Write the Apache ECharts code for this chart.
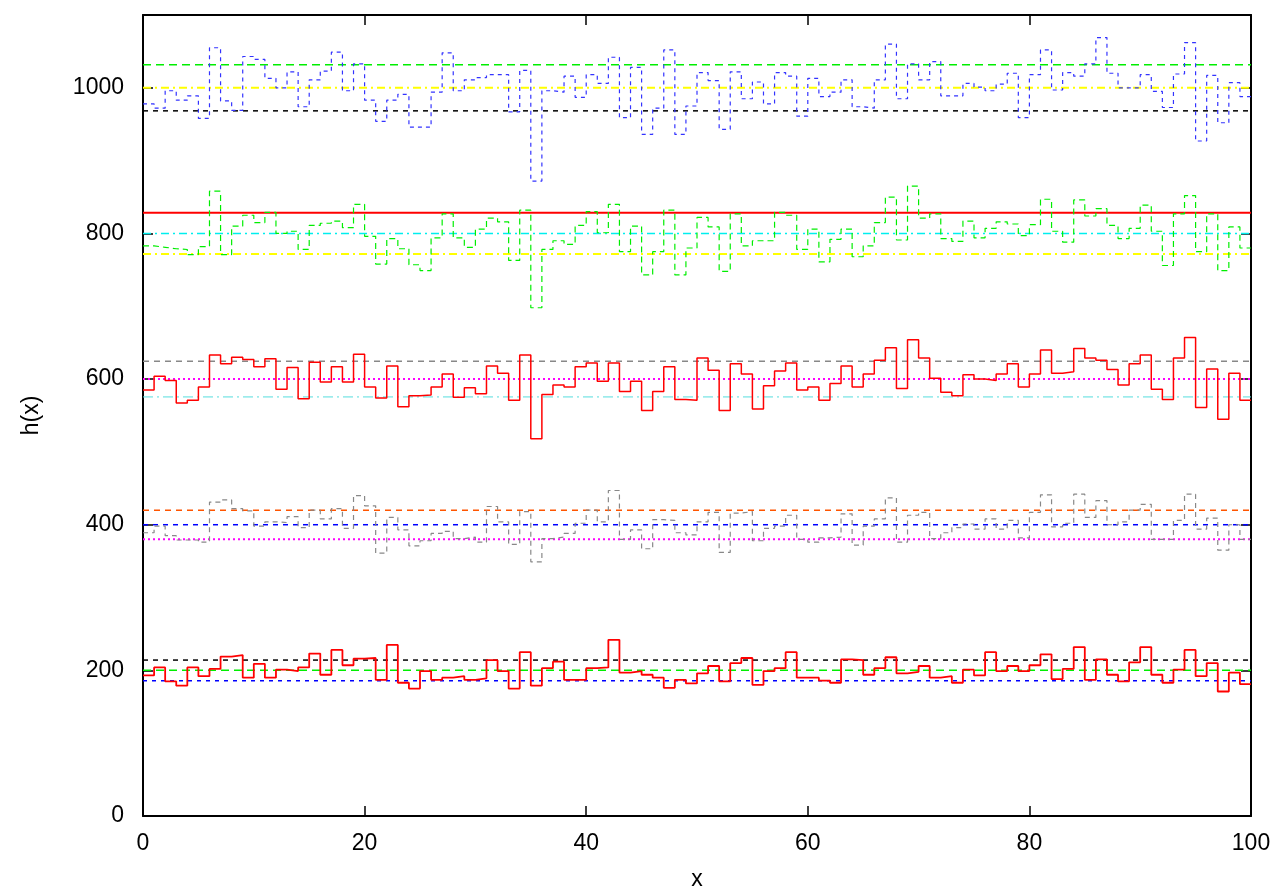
<!DOCTYPE html>
<html>
<head>
<meta charset="utf-8">
<script src="https://cdn.jsdelivr.net/npm/echarts@6/dist/echarts.min.js"></script>
<style>
  html, body { margin: 0; padding: 0; background: #fff; }
  #main { width: 1281px; height: 891px; }
</style>
</head>
<body>
<div id="main"></div>
<script>
// histogram heights, one value per unit bin, x = 0..99
const hist1000 = [
  978, 972, 996, 983, 989, 958, 1055, 982, 969, 1043,
  1039, 1013, 1000, 1022, 974, 1011, 1023, 1049, 996, 1033,
  983, 954, 983, 991, 946, 946, 994, 1048, 996, 1011,
  1014, 1018, 1018, 967, 1024, 872, 996, 994, 1016, 987,
  1018, 1006, 1042, 959, 1028, 936, 972, 1052, 936, 975,
  1021, 1010, 943, 1022, 985, 1008, 978, 1021, 1016, 961,
  1013, 988, 994, 1011, 974, 972, 1011, 1060, 985, 1033,
  1011, 1036, 989, 989, 1006, 1001, 996, 1005, 1020, 959,
  1018, 1052, 997, 1021, 1016, 1033, 1069, 1020, 1000, 1000,
  1018, 995, 973, 1019, 1062, 927, 1017, 952, 1007, 988
]
const hist800 = [
  783, 781, 779, 778, 771, 782, 858, 771, 810, 825,
  815, 829, 800, 803, 778, 811, 814, 817, 808, 840,
  796, 758, 793, 779, 757, 749, 794, 827, 794, 781,
  806, 821, 816, 763, 832, 698, 778, 790, 785, 811,
  830, 801, 840, 775, 810, 743, 775, 832, 743, 780,
  822, 809, 748, 827, 783, 790, 790, 829, 825, 778,
  806, 761, 792, 806, 768, 783, 815, 850, 791, 865,
  821, 827, 793, 789, 817, 794, 807, 816, 813, 797,
  812, 847, 803, 788, 846, 824, 834, 811, 793, 807,
  839, 803, 756, 827, 852, 775, 827, 749, 809, 780
]
const hist600 = [
  585, 604, 598, 567, 571, 589, 633, 621, 630, 627,
  617, 628, 586, 616, 573, 623, 596, 617, 596, 634,
  589, 574, 618, 562, 577, 578, 589, 607, 575, 588,
  580, 618, 608, 571, 633, 518, 579, 592, 589, 617,
  622, 597, 622, 583, 597, 557, 583, 617, 572, 571,
  629, 612, 557, 621, 607, 559, 591, 611, 622, 585,
  589, 571, 594, 618, 589, 607, 626, 643, 587, 654,
  629, 601, 582, 577, 606, 600, 598, 607, 621, 589,
  607, 640, 608, 610, 642, 629, 626, 613, 592, 621,
  633, 586, 572, 629, 657, 561, 614, 545, 608, 571
]
const hist400 = [
  389, 398, 385, 379, 379, 376, 431, 434, 422, 419,
  398, 404, 403, 411, 396, 420, 408, 422, 395, 440,
  426, 361, 410, 393, 371, 378, 388, 391, 381, 383,
  376, 425, 404, 373, 418, 349, 381, 383, 388, 402,
  420, 404, 447, 380, 393, 367, 407, 406, 389, 386,
  404, 417, 362, 416, 418, 378, 395, 398, 413, 380,
  376, 382, 383, 415, 372, 398, 408, 437, 376, 413,
  417, 381, 389, 396, 401, 394, 408, 394, 406, 382,
  417, 441, 397, 402, 442, 410, 433, 400, 404, 420,
  428, 380, 380, 406, 442, 394, 409, 365, 400, 380
]
const hist200 = [
  193, 204, 185, 179, 204, 192, 202, 219, 221, 190,
  209, 190, 201, 199, 204, 223, 194, 228, 207, 216,
  217, 187, 235, 183, 175, 199, 187, 190, 192, 187,
  189, 214, 199, 175, 225, 179, 203, 212, 187, 187,
  203, 204, 242, 197, 199, 194, 190, 176, 187, 182,
  196, 206, 185, 210, 217, 180, 199, 203, 225, 190,
  190, 186, 183, 215, 214, 194, 203, 218, 196, 198,
  206, 190, 192, 183, 201, 193, 225, 199, 206, 199,
  207, 222, 188, 202, 232, 187, 215, 194, 185, 211,
  232, 194, 183, 201, 228, 192, 210, 171, 197, 181
]

// mean and mean +/- sqrt(mean) for each histogram
const means = [1000, 800, 600, 400, 200]

const xTicks = { min: 0, max: 100, interval: 20 }
const yTicks = { min: 0, max: 1100, interval: 200 }

const font = 'Liberation Sans, Arial, sans-serif'

function steps(vals) {
  const d = vals.map((v, i) => [i, v])
  d.push([vals.length, vals[vals.length - 1]])
  return d
}

function hline(v, color, type, width) {
  return {
    type: 'line',
    data: [[0, v], [100, v]],
    symbol: 'none',
    silent: true,
    lineStyle: { color: color, type: type, width: width },
  }
}

function hist(vals, color, type, width) {
  return {
    type: 'line',
    step: 'end',
    data: steps(vals),
    symbol: 'none',
    lineStyle: { color: color, type: type, width: width },
  }
}

// style of the upper / mean / lower lines for each band
const bandStyles = [
  [['#00ee00', [8, 5], 1.5], ['#ffff00', [8, 4, 2, 4], 2], ['#000000', [5, 5], 1.5]],
  [['#ff0000', 'solid', 2], ['#00eeee', [8, 4, 2, 4], 1.5], ['#ffff00', [8, 4, 2, 4], 2]],
  [['#888888', [6, 5], 1.5], ['#ff00ff', [2, 3], 2], ['#55dddd', [10, 4, 2, 4], 1]],
  [['#ff5500', [6, 5], 1.5], ['#0000ff', [5, 5], 1.5], ['#ff00ff', [2, 3], 2]],
  [['#000000', [5, 5], 1.5], ['#00ee00', [8, 5], 1.5], ['#0000ff', [4, 5], 1.5]],
]

const series = []
means.forEach((m, i) => {
  const s = Math.sqrt(m)
  const st = bandStyles[i]
  series.push(hline(m + s, st[0][0], st[0][1], st[0][2]))
  series.push(hline(m, st[1][0], st[1][1], st[1][2]))
  series.push(hline(m - s, st[2][0], st[2][1], st[2][2]))
})
series.push(hist(hist1000, '#3333ff', [4, 4], 1.2))
series.push(hist(hist800, '#00ee00', [6, 4], 1.2))
series.push(hist(hist600, '#ff0000', 'solid', 1.5))
series.push(hist(hist400, '#888888', [5, 4], 1.2))
series.push(hist(hist200, '#ff0000', 'solid', 1.8))

const axisLine = { show: true, onZero: false, lineStyle: { color: '#000', width: 2 } }
const axisTick = { show: true, inside: true, length: 10, lineStyle: { color: '#000', width: 1.5 } }

const option = {
  animation: false,
  backgroundColor: '#fff',
  grid: { left: 143, right: 30, top: 15, bottom: 75, outerBoundsMode: 'none' },
  xAxis: [
    {
      type: 'value',
      min: xTicks.min,
      max: xTicks.max,
      interval: xTicks.interval,
      name: 'x',
      nameLocation: 'middle',
      nameGap: 52,
      nameTextStyle: { color: '#000', fontSize: 23, fontFamily: font },
      axisLine: axisLine,
      axisTick: axisTick,
      splitLine: { show: false },
      axisLabel: { color: '#000', fontSize: 23, fontFamily: font, margin: 16 },
    },
    {
      type: 'value',
      position: 'top',
      min: xTicks.min,
      max: xTicks.max,
      interval: xTicks.interval,
      axisLine: axisLine,
      axisTick: axisTick,
      splitLine: { show: false },
      axisLabel: { show: false },
    },
  ],
  yAxis: [
    {
      type: 'value',
      min: yTicks.min,
      max: yTicks.max,
      interval: yTicks.interval,
      name: 'h(x)',
      nameLocation: 'middle',
      nameGap: 100,
      nameRotate: 90,
      nameTextStyle: { color: '#000', fontSize: 23, fontFamily: font },
      axisLine: axisLine,
      axisTick: axisTick,
      splitLine: { show: false },
      axisLabel: {
        color: '#000',
        fontSize: 23,
        fontFamily: font,
        margin: 19,
        showMaxLabel: false,
        formatter: (v) => String(v),
      },
    },
    {
      type: 'value',
      position: 'right',
      min: yTicks.min,
      max: yTicks.max,
      interval: yTicks.interval,
      axisLine: axisLine,
      axisTick: axisTick,
      splitLine: { show: false },
      axisLabel: { show: false },
    },
  ],
  series: series,
}

const myChart = echarts.init(document.getElementById('main'))
myChart.setOption(option)
</script>
</body>
</html>
